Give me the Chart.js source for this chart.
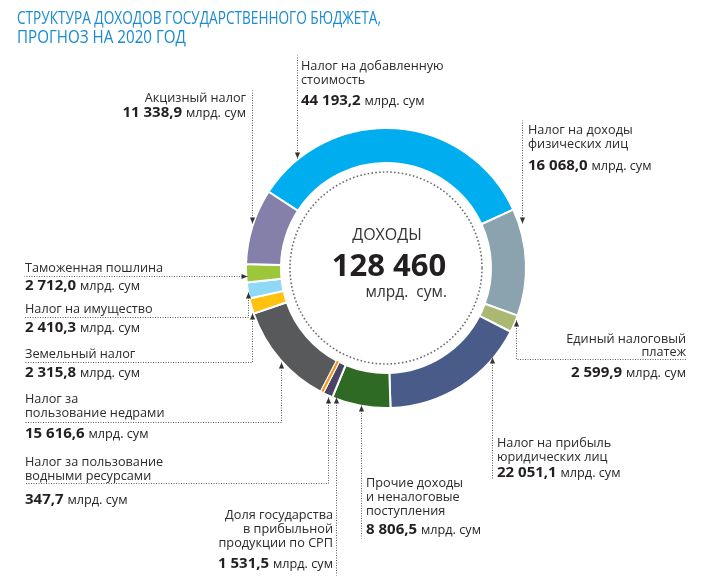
<!DOCTYPE html>
<html>
<head>
<meta charset="utf-8">
<script src="https://cdn.jsdelivr.net/npm/chart.js@4/dist/chart.umd.min.js"></script>
<style>
  html, body { margin: 0; padding: 0; background: #fff; }
  #wrap { position: relative; width: 706px; height: 586px; overflow: hidden; font-family: "Open Sans", "Noto Sans", sans-serif; color: #231f20; }
  #c { position: absolute; left: 0; top: 0; }
  .t { position: absolute; white-space: nowrap; line-height: 1; }
  .t span { line-height: 1; }
</style>
</head>
<body>
<div id="wrap">
  <canvas id="c" width="706" height="586"></canvas>
</div>
<script>
// ---- data ----
const categories = [
  "Налог на добавленную стоимость",
  "Налог на доходы физических лиц",
  "Единый налоговый платеж",
  "Налог на прибыль юридических лиц",
  "Прочие доходы и неналоговые поступления",
  "Доля государства в прибыльной продукции по СРП",
  "Налог за пользование водными ресурсами",
  "Налог за пользование недрами",
  "Земельный налог",
  "Налог на имущество",
  "Таможенная пошлина",
  "Акцизный налог"
];
const values = [44193.2, 16068.0, 2599.9, 22051.1, 8806.5, 1531.5, 347.7, 15616.6, 2315.8, 2410.3, 2712.0, 11338.9];
const labelLines = [
  ["Налог на добавленную", "стоимость"],
  ["Налог на доходы", "физических лиц"],
  ["Единый налоговый", "платеж"],
  ["Налог на прибыль", "юридических лиц"],
  ["Прочие доходы", "и неналоговые", "поступления"],
  ["Доля государства", "в прибыльной", "продукции по СРП"],
  ["Налог за пользование", "водными ресурсами"],
  ["Налог за", "пользование недрами"],
  ["Земельный налог"],
  ["Налог на имущество"],
  ["Таможенная пошлина"],
  ["Акцизный налог"]
];
const colors = ["#00aeef", "#8ba2af", "#a9b971", "#485b89", "#2e6a23", "#4a4366", "#f7941d", "#58595b", "#ffc20e", "#8fd8f7", "#9dc73b", "#8480a9"];
const unit = "млрд. сум";
const totalValue = 128460;
const centerTitle = "ДОХОДЫ";
const centerUnit = "млрд.&nbsp; сум.";
const titleLines = ["СТРУКТУРА ДОХОДОВ ГОСУДАРСТВЕННОГО БЮДЖЕТА,", "ПРОГНОЗ НА 2020 ГОД"];

// ---- layout (positions only) ----
const titleWidths = [364, 169];
const labelLayout = [
  {x: 301, align: "left",  lines: [70, 84], value: 105},
  {x: 528, align: "left",  lines: [134, 148], value: 170},
  {x: 686, align: "right", lines: [343, 356], value: 377},
  {x: 497, align: "left",  lines: [447, 461], value: 477},
  {x: 366, align: "left",  lines: [487, 501, 515], value: 534},
  {x: 333, align: "right", lines: [519, 533, 547], value: 568},
  {x: 25,  align: "left",  lines: [466, 480], value: 504},
  {x: 25,  align: "left",  lines: [403, 417], value: 438},
  {x: 25,  align: "left",  lines: [358], value: 377},
  {x: 25,  align: "left",  lines: [313], value: 332},
  {x: 25,  align: "left",  lines: [272], value: 290},
  {x: 246, align: "right", lines: [102], value: 117}
];
// leader paths: first point is the arrow tip at the ring
const leaders = [
  [[297,158],[297,55]],
  [[522,223],[522,120]],
  [[516,320],[516,359],[687,359]],
  [[492,357],[492,478]],
  [[361,405],[361,538]],
  [[336,397],[336,575]],
  [[328,397],[328,483],[25,483]],
  [[281,362],[281,422],[24,422]],
  [[252,313],[252,362],[24,362]],
  [[248,292],[248,317],[24,317]],
  [[247,276],[24,276]],
  [[252,223],[252,90]]
];

function fmt(v) {
  const s = v.toFixed(1).split(".");
  return s[0].replace(/\B(?=(\d{3})+(?!\d))/g, " ") + "," + s[1];
}
function fmtInt(v) {
  return String(v).replace(/\B(?=(\d{3})+(?!\d))/g, " ");
}

const wrap = document.getElementById("wrap");
const ASC = 0.888; // Open Sans baseline offset for line-height:1
function addText(html, x, baseline, size, align, opts) {
  opts = opts || {};
  const d = document.createElement("div");
  d.className = "t";
  d.style.fontSize = size + "px";
  d.style.top = (baseline - ASC * size) + "px";
  if (opts.color) d.style.color = opts.color;
  if (opts.weight) d.style.fontWeight = opts.weight;
  if (align === "right") { d.style.right = (706 - x) + "px"; d.style.textAlign = "right"; }
  else if (align === "center") { d.style.left = (x - 200) + "px"; d.style.width = "400px"; d.style.textAlign = "center"; }
  else d.style.left = x + "px";
  d.innerHTML = html;
  wrap.appendChild(d);
  if (opts.fitWidth) {
    const w = d.getBoundingClientRect().width;
    d.style.transform = "scaleX(" + (opts.fitWidth / w) + ")";
    d.style.transformOrigin = "left";
  }
  return d;
}

// title
titleLines.forEach((t, i) => addText(t, 17, 25 + i * 19, 17.5, "left", {color: "#1a8bcf", fitWidth: titleWidths[i]}));

// labels
labelLines.forEach((lines, i) => {
  const L = labelLayout[i];
  lines.forEach((ln, j) => addText(ln, L.x, L.lines[j], 12.7, L.align, {color: "#2b2b2b"}));
  addText('<span style="font-weight:700;font-size:15px">' + fmt(values[i]) + '</span> <span style="font-size:12.7px">' + unit + '</span>',
    L.x, L.value, 15, L.align, {color: "#231f20"});
});

// center
addText(centerTitle, 387, 240, 16, "center", {color: "#333"});
addText(fmtInt(totalValue), 389, 277, 31, "center", {color: "#231f20", weight: 700});
addText(centerUnit, 447, 298, 15.5, "right", {color: "#333"});

// ---- plugin: thin-slice emphasis, dotted inner circle, leader lines ----
const decor = {
  id: "decor",
  afterDatasetsDraw(chart) {
    const ctx = chart.ctx;
    const arcs = chart.getDatasetMeta(0).data;
    const cx = arcs[0].x, cy = arcs[0].y;
    ctx.save();
    // very thin slices: redraw so they stay visible between white borders
    arcs.forEach((a, i) => {
      if ((a.endAngle - a.startAngle) * a.outerRadius > 4) return;
      const mid = (a.startAngle + a.endAngle) / 2;
      const c = Math.cos(mid), s = Math.sin(mid);
      ctx.setLineDash([]);
      ctx.lineCap = "butt";
      ctx.beginPath();
      ctx.moveTo(cx + c * a.innerRadius, cy + s * a.innerRadius);
      ctx.lineTo(cx + c * (a.outerRadius - 1), cy + s * (a.outerRadius - 1));
      ctx.strokeStyle = "#ffffff";
      ctx.lineWidth = 4.5;
      ctx.stroke();
      ctx.strokeStyle = colors[i];
      ctx.lineWidth = 2.2;
      ctx.stroke();
    });
    // inner dotted circle
    ctx.beginPath();
    ctx.setLineDash([1.6, 2.2]);
    ctx.lineWidth = 1.6;
    ctx.strokeStyle = "#6d6d6d";
    ctx.arc(cx, cy, arcs[0].innerRadius - 9, 0, Math.PI * 2);
    ctx.stroke();
    // leaders
    leaders.forEach(path => {
      ctx.beginPath();
      ctx.setLineDash([1, 1.5]);
      ctx.lineWidth = 1;
      ctx.strokeStyle = "#5a5a5a";
      path.forEach((p, k) => k ? ctx.lineTo(p[0] + 0.5, p[1] + 0.5) : ctx.moveTo(p[0] + 0.5, p[1] + 0.5));
      ctx.stroke();
      const [tx, ty] = path[0];
      const [nx, ny] = path[1];
      const dx = tx - nx, dy = ty - ny;
      const len = Math.hypot(dx, dy);
      const ux = dx / len, uy = dy / len;
      const px = -uy, py = ux;
      ctx.setLineDash([]);
      ctx.fillStyle = "#333";
      ctx.beginPath();
      ctx.moveTo(tx + 0.5, ty + 0.5);
      ctx.lineTo(tx + 0.5 - ux * 6 + px * 2.6, ty + 0.5 - uy * 6 + py * 2.6);
      ctx.lineTo(tx + 0.5 - ux * 6 - px * 2.6, ty + 0.5 - uy * 6 - py * 2.6);
      ctx.closePath();
      ctx.fill();
    });
    ctx.restore();
  }
};

new Chart(document.getElementById("c"), {
  type: "doughnut",
  data: {
    labels: categories,
    datasets: [{
      data: values,
      backgroundColor: colors,
      borderColor: "#ffffff",
      borderWidth: 2,
      hoverOffset: 0
    }]
  },
  options: {
    responsive: false,
    animation: false,
    events: [],
    rotation: -57,
    cutout: "75%",
    layout: { padding: { left: 245, right: 179, top: 127, bottom: 177 } },
    plugins: { legend: { display: false }, tooltip: { enabled: false }, title: { display: false } }
  },
  plugins: [decor]
});
</script>
</body>
</html>
